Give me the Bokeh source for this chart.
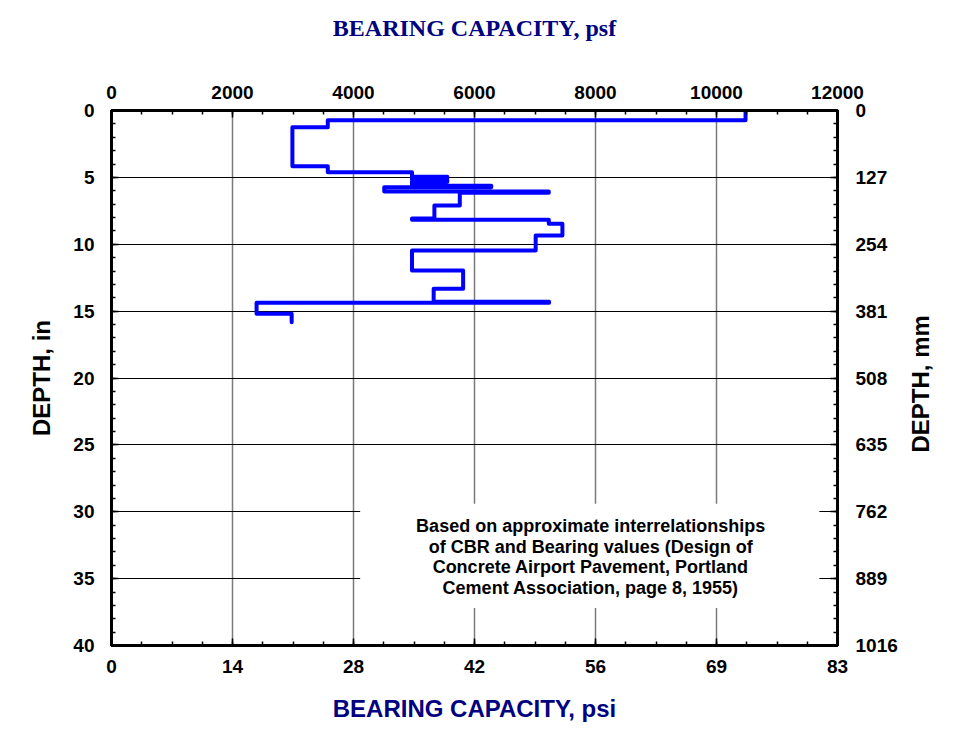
import math
from bokeh.plotting import figure
from bokeh.layouts import row
from bokeh.models import Range1d, LinearAxis, FixedTicker
from bokeh.core.properties import value
from bokeh.embed import file_html
from bokeh.resources import INLINE

# ---- data ----
bearing_psf = [10480, 10480, 3575, 3575, 2990, 2990, 3575, 3575, 4967, 4967,
               5550, 5550, 4967, 4967, 5550, 5550, 4967, 4967, 6277, 6277,
               4508, 4508, 7228, 7228, 5757, 5757, 5337, 5337, 4967, 4967,
               7228, 7228, 7453, 7453, 7011, 7011, 4967, 4967, 5812, 5812,
               5325, 5325, 7233, 7233, 2398, 2398, 2978, 2978]
depth_in = [0.0, 0.72, 0.72, 1.25, 1.25, 4.17, 4.17, 4.62, 4.62, 4.95,
            4.95, 5.07, 5.07, 5.19, 5.19, 5.32, 5.32, 5.62, 5.62, 5.74,
            5.74, 6.05, 6.05, 6.15, 6.15, 7.1, 7.1, 8.08, 8.08, 8.16,
            8.16, 8.47, 8.47, 9.35, 9.35, 10.47, 10.47, 11.96, 11.96, 13.33,
            13.33, 14.30, 14.30, 14.38, 14.38, 15.2, 15.2, 15.83]

psf_ticks = [0, 2000, 4000, 6000, 8000, 10000, 12000]
psf_minor = [i * 500 for i in range(25)]
psi_labels = ["0", "14", "28", "42", "56", "69", "83"]
depth_ticks = [0, 5, 10, 15, 20, 25, 30, 35, 40]
depth_minor = list(range(41))
mm_labels = ["0", "127", "254", "381", "508", "635", "762", "889", "1016"]

note_lines = ["Based on approximate interrelationships",
              "of CBR and Bearing values (Design of",
              "Concrete Airport Pavement, Portland",
              "Cement Association, page 8, 1955)"]
note_x = [7920, 7920, 7920, 7920]
note_depth = [31.05, 32.6, 34.15, 35.7]
note_box = dict(left=4110, right=11700, top=29.4, bottom=37.2)

right_title = ["DEPTH, mm"]

NAVY = "#000080"
SANS = "Liberation Sans"

MAIN_W, SIDE_W, H = 900, 56, 730

p = figure(width=MAIN_W, height=H, output_backend="svg", toolbar_location=None,
           x_range=Range1d(0, 12000), y_range=Range1d(40, 0),
           x_axis_location="above", y_axis_location="left",
           min_border_left=111, min_border_right=MAIN_W - 837,
           min_border_top=110, min_border_bottom=85)
p.background_fill_color = "white"
p.border_fill_color = "white"
p.outline_line_color = "black"
p.outline_line_width = 3

# extra axes
p.add_layout(LinearAxis(), "below")
p.add_layout(LinearAxis(), "right")

for ax in p.xaxis:
    ax.ticker = FixedTicker(ticks=psf_ticks, minor_ticks=psf_minor)
for ax in p.yaxis:
    ax.ticker = FixedTicker(ticks=depth_ticks, minor_ticks=depth_minor)

top_ax, bot_ax = p.xaxis[0], p.xaxis[1]
left_ax, right_ax = p.yaxis[0], p.yaxis[1]
bot_ax.major_label_overrides = {t: l for t, l in zip(psf_ticks, psi_labels)}
right_ax.major_label_overrides = {t: l for t, l in zip(depth_ticks, mm_labels)}
top_ax.major_label_overrides = {t: str(t) for t in psf_ticks}
left_ax.major_label_overrides = {t: str(t) for t in depth_ticks}

for ax in list(p.xaxis) + list(p.yaxis):
    ax.axis_line_width = 3
    ax.axis_line_color = "black"
    ax.major_tick_in = 7
    ax.major_tick_out = 0
    ax.minor_tick_in = 4
    ax.minor_tick_out = 0
    ax.major_tick_line_width = 1.5
    ax.minor_tick_line_width = 1.5
    ax.major_label_text_font = SANS
    ax.major_label_text_font_style = "bold"
    ax.major_label_text_font_size = "19px"
    ax.major_label_text_color = "black"
    ax.major_label_standoff = 15
    ax.axis_label_text_font_style = "bold"
    ax.axis_label_text_font_size = "24px"

top_ax.axis_label = "BEARING CAPACITY, psf"
top_ax.axis_label_text_font = "Liberation Serif"
top_ax.axis_label_text_color = NAVY
top_ax.axis_label_standoff = 42
top_ax.major_label_standoff = 12

bot_ax.axis_label = "BEARING CAPACITY, psi"
bot_ax.axis_label_text_font = SANS
bot_ax.axis_label_text_color = NAVY
bot_ax.axis_label_standoff = 19
bot_ax.major_label_standoff = 14

left_ax.axis_label = "DEPTH, in"
left_ax.axis_label_text_font = SANS
left_ax.axis_label_text_color = "black"
left_ax.axis_label_standoff = 15
left_ax.major_label_standoff = 17

right_ax.major_label_standoff = 18

# grids
p.xgrid.ticker = FixedTicker(ticks=psf_ticks[1:-1])
p.ygrid.ticker = FixedTicker(ticks=depth_ticks[1:-1])
p.xgrid.grid_line_color = "#7a7a7a"
p.xgrid.grid_line_width = 1.5
p.ygrid.grid_line_color = "black"
p.ygrid.grid_line_width = 1

# data line
p.line(bearing_psf, depth_in, line_color="#0000FF", line_width=4,
       line_join="round", line_cap="round")

# note box and text
p.quad(left=[note_box["left"]], right=[note_box["right"]],
       top=[note_box["top"]], bottom=[note_box["bottom"]],
       fill_color="white", line_color=None)
p.text(x=note_x, y=note_depth, text=note_lines,
       text_font=value(SANS), text_font_style="bold", text_font_size="18px",
       text_align="center", text_baseline="middle", text_color="black")

# narrow side panel carrying the right-hand title, reading bottom to top
side = figure(width=SIDE_W, height=H, output_backend="svg", toolbar_location=None,
              x_range=Range1d(0, SIDE_W), y_range=Range1d(0, H),
              min_border=0)
side.axis.visible = False
side.grid.visible = False
side.outline_line_color = None
side.background_fill_color = "white"
side.border_fill_color = "white"
side.text(x=[20], y=[H - 373], text=right_title, angle=math.pi / 2,
          text_font=value(SANS), text_font_style="bold", text_font_size="24px",
          text_align="center", text_baseline="middle", text_color="black")

layout = row(p, side, spacing=0)
open("out.html", "w").write(file_html(layout, INLINE))
